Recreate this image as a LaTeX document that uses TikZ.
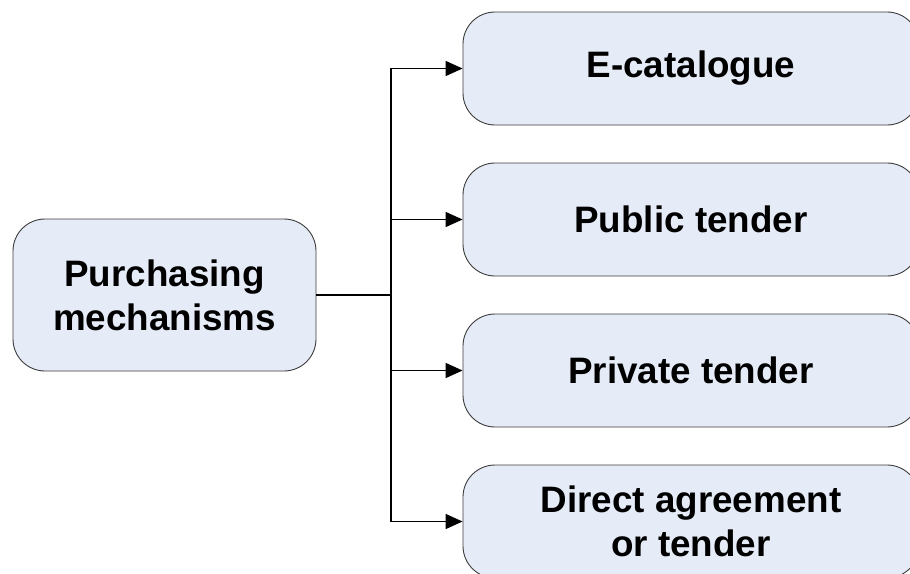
\documentclass[tikz,border=0pt]{standalone}
\usepackage{fontspec}
\setmainfont{Liberation Sans}
\usetikzlibrary{arrows.meta}
\definecolor{boxfill}{RGB}{230,236,247}
\definecolor{boxline}{RGB}{60,60,60}
\begin{document}
\begin{tikzpicture}[x=1pt,y=-1pt,
  box/.style={draw=boxline, line width=0.9pt, fill=boxfill, rounded corners=32pt,
    align=center, inner sep=0pt,
    font=\fontsize{36.8}{44}\selectfont\bfseries},
  leftbox/.style={box, minimum width=303pt, minimum height=152pt},
  rightbox/.style={box, minimum width=456pt, minimum height=113pt},
  conn/.style={line width=1.6pt, black},
  arr/.style={conn, -{Triangle[length=17pt,width=15pt]}}]
\useasboundingbox (0,0) rectangle (910,573);
\begin{scope}
\clip (0,0) rectangle (910,573);
\node[leftbox] (L) at (164.5,295) {Purchasing\\mechanisms};
\node[rightbox] (A) at (691,68.5) {E-catalogue};
\node[rightbox] (B) at (691,219.5) {Public tender};
\node[rightbox] (C) at (691,370.5) {Private tender};
\node[rightbox] (D) at (691,521.5) {Direct agreement\\or tender};
\coordinate (J) at (391,295);
\draw[conn] (L.east) -- (J);
\draw[arr] (J) |- (A.west);
\draw[arr] (J) |- (B.west);
\draw[arr] (J) |- (C.west);
\draw[arr] (J) |- (D.west);
\end{scope}
\end{tikzpicture}
\end{document}
